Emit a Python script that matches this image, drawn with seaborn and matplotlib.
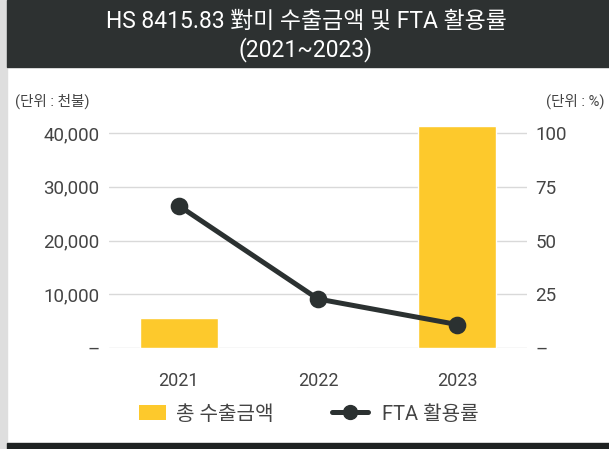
import matplotlib
matplotlib.use("Agg")
import matplotlib.pyplot as plt
import seaborn as sns
import pandas as pd
from matplotlib.patches import Rectangle, Patch
from matplotlib.lines import Line2D

years = ["2021", "2022", "2023"]
export_amount = [5600, 0, 41300]       # 천불
fta_rate = [66.2, 22.8, 10.9]          # %
left_ticks = [0, 10000, 20000, 30000, 40000]
left_labels = ["–", "10,000", "20,000", "30,000", "40,000"]
right_ticks = [0, 25, 50, 75, 100]
right_labels = ["–", "25", "50", "75", "100"]

sns.set_theme(style="white")
FONT = ["Roboto", "Noto Sans CJK KR", "DejaVu Sans"]
plt.rcParams["font.family"] = FONT

BAR = "#FDC92C"
LINE = "#2B3131"
TXT = "#444444"

W, H = 609, 449
fig = plt.figure(figsize=(W / 100, H / 100), dpi=100)
fig.patch.set_facecolor("white")

def fx(px):
    return px / W

def fy(py):
    return 1 - py / H

# background decorations
fig.patches.append(Rectangle((0, 0), fx(7), 1, transform=fig.transFigure,
                             color="#DEDEDE", zorder=0))
fig.patches.append(Rectangle((fx(7), fy(67)), 1, 67 / H, transform=fig.transFigure,
                             color="#2D3131", zorder=0))
fig.patches.append(Rectangle((fx(7), 0), 1, 6 / H, transform=fig.transFigure,
                             color="#1E2222", zorder=0))

fig.text(fx(306), fy(21), "HS 8415.83 對미 수출금액 및 FTA 활용률", color="white",
         ha="center", va="center", fontsize=16.5)
fig.text(fx(306), fy(50), "(2021~2023)", color="white",
         ha="center", va="center", fontsize=16.5)

fig.text(fx(15), fy(101), "(단위 : 천불)", color=TXT, ha="left", va="center", fontsize=10.5)
fig.text(fx(604), fy(101), "(단위 : %)", color=TXT, ha="right", va="center", fontsize=10.5)

# axes
x0, x1 = 109, 527
ybot, ytop40 = 348, 133
scale = (ybot - ytop40) / 40000
ymax = 42500
top_px = ybot - ymax * scale
ax = fig.add_axes([fx(x0), fy(ybot), (x1 - x0) / W, (ybot - top_px) / H])

df = pd.DataFrame({"year": years, "amount": export_amount, "rate": fta_rate})
sns.barplot(data=df, x="year", y="amount", color=BAR, width=0.56, ax=ax,
            saturation=1, zorder=2)
ax.set_ylim(0, ymax)
ax.set_xlim(-0.5, 2.5)
ax.set_yticks(left_ticks)
ax.set_yticklabels(left_labels)
ax.yaxis.grid(True, color="#D9D9D9", linewidth=1)
ax.set_axisbelow(True)
for s in ax.spines.values():
    s.set_visible(False)
ax.set_xlabel("")
ax.set_ylabel("")
ax.tick_params(axis="y", length=0, pad=7, labelsize=13.5, labelcolor=TXT)
ax.tick_params(axis="x", length=0, pad=17, labelsize=13, labelcolor=TXT)

ax2 = ax.twinx()
sns.pointplot(data=df, x="year", y="rate", color=LINE, ax=ax2,
              markers="o", markersize=10, linewidth=3.6)
ax2.set_ylim(0, ymax / 400)
ax2.set_xlim(-0.5, 2.5)
ax2.set_yticks(right_ticks)
ax2.set_yticklabels(right_labels)
for s in ax2.spines.values():
    s.set_visible(False)
ax2.set_ylabel("")
ax2.set_xlabel("")
ax2.grid(False)
ax2.tick_params(axis="y", length=0, pad=6, labelsize=13.5, labelcolor=TXT)

LFS = 14.5
em = LFS * 100 / 72
leg1 = fig.legend(handles=[Patch(facecolor=BAR, edgecolor="none", label="총 수출금액")],
                  loc="center left", bbox_to_anchor=(fx(139), fy(414)),
                  frameon=False, fontsize=LFS, borderpad=0, borderaxespad=0,
                  handlelength=27 / em, handleheight=15 / em, handletextpad=10 / em)
leg2 = fig.legend(handles=[Line2D([0], [0], color=LINE, lw=3.6, marker="o",
                                  markersize=10, label="FTA 활용률")],
                  loc="center left", bbox_to_anchor=(fx(332), fy(414)),
                  frameon=False, fontsize=LFS, borderpad=0, borderaxespad=0,
                  handlelength=36 / em, handletextpad=14 / em)
for leg in (leg1, leg2):
    for t in leg.get_texts():
        t.set_color(TXT)

fig.savefig("out.png", dpi=100)
